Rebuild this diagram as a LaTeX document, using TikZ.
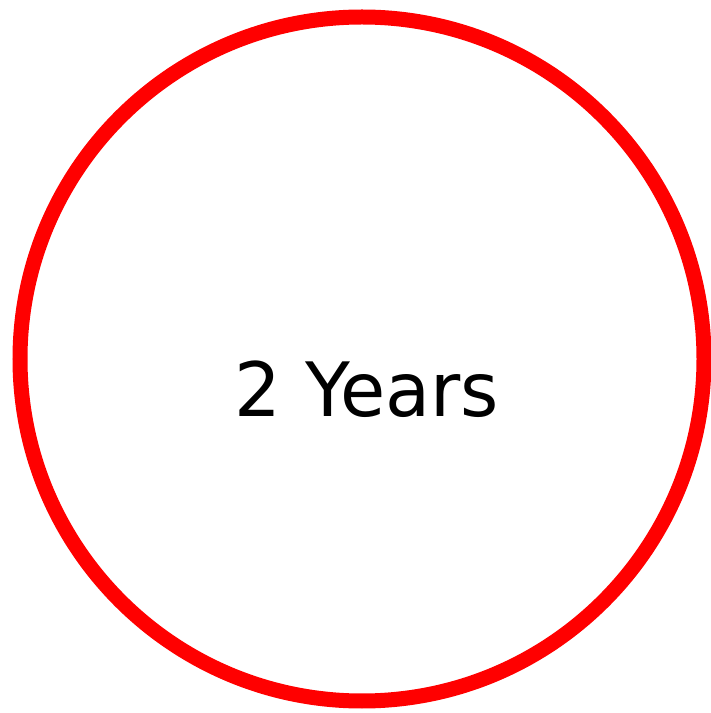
\documentclass[tikz,border=0pt]{standalone}
\usepackage{fontspec}
\setmainfont{DejaVu Sans}
\definecolor{ringred}{RGB}{255,0,0}
\tikzset{ring/.style={draw=ringred,line width=15pt},
  label/.style={inner sep=0pt,anchor=base,font=\fontsize{75}{80}\selectfont,xscale=0.98}}
\begin{document}
\begin{tikzpicture}[x=1pt,y=1pt]
\useasboundingbox (0,0) rectangle (711,713);
\fill[white] (0,0) rectangle (711,713);
\node[ring,circle,minimum size=684pt,inner sep=0pt] (c) at (362,354) {};
\node[label] (t) at (367,296) {2 Years};
\end{tikzpicture}
\end{document}
